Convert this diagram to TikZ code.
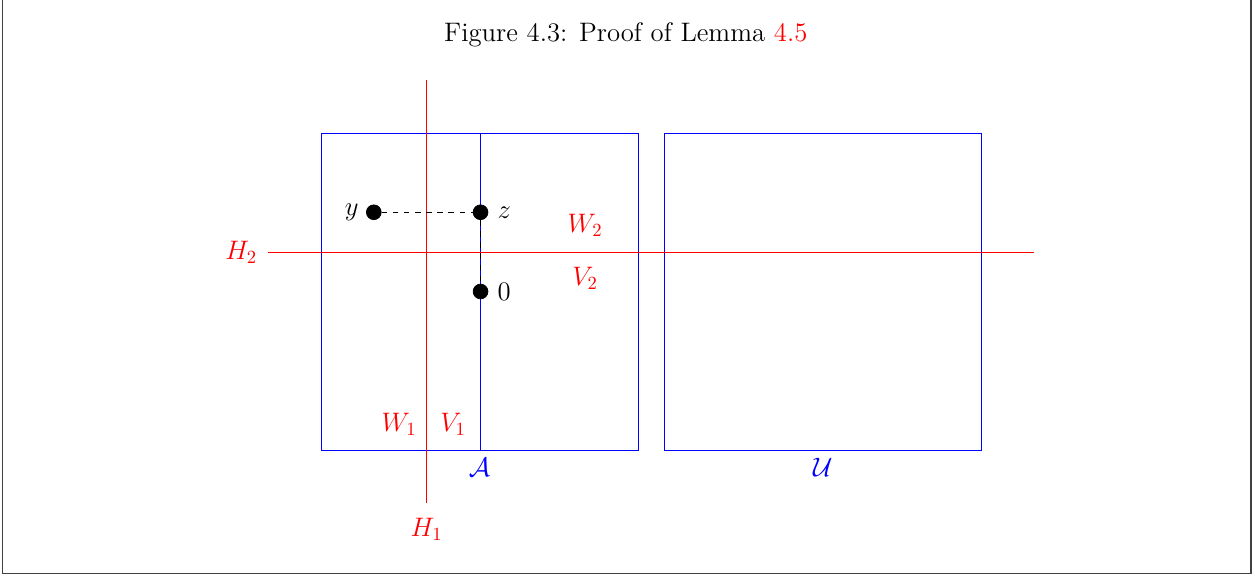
\documentclass[tikz,border=0pt,12pt]{standalone}
\usepackage{amssymb}
\usepackage{mathtools}
\usepackage{tikz}
\usetikzlibrary{positioning}
\usetikzlibrary{calc}

\begin{document}
\begin{tikzpicture}[font=\large, vertex/.style={circle, draw, fill=black, inner sep=0pt, minimum size=2.8mm}, hyper/.style={red}, box/.style={draw=blue}]
    \useasboundingbox (-6.076,-2.404) rectangle (17.68,8.518);
    % Frame and caption
    \draw[black!75, line width=0.8pt] (-6.03,8.6) -- (-6.03,-2.34) -- (17.6,-2.34) -- (17.6,8.6);
    \node (cap) at (5.77,7.86) {Figure 4.3: Proof of Lemma {\color{red}4.5}};

    % Define the two cubes
    \draw[box] (0,0) rectangle (6,6) (3.02,0) -- (3.02,6);
    \draw[box] (6.5,0) rectangle (12.5,6);
    \node[blue] (A) at (3,-0.32) {$\mathcal{A}$};
    \node[blue] (U) at (9.5,-0.32) {$\mathcal{U}$};

    % Hyperplanes
    \coordinate (h1top) at (2,7);
    \coordinate (h1bot) at (2,-1);
    \coordinate (h2left) at (-1,3.75);
    \coordinate (h2right) at (13.5,3.75);
    \draw[hyper] (h1top) -- (h1bot);
    \draw[hyper] (h2right) -- (h2left);
    \node[red] (H1) at (2,-1.5) {$H_1$};
    \node[red] (H2) at (-1.51,3.75) {$H_2$};

    % Define vertices
    \node[vertex] (y) at (1,4.5) {};
    \node[vertex] (z) at (3.02,4.5) {};
    \node[vertex] (O) at (3.02,3) {};
    \node[left=4pt] at (y) {$y$};
    \node[right=5pt] at (z) {$z$};
    \node[right=5pt] at (O) {$0$};
    \draw[dashed] (y) -- (z);
    \draw[dashed] (z) -- (O);

    % Label the half-spaces
    \node[red] at (1.48,0.49) {$W_1$};
    \node[red] at (2.5,0.49) {$V_1$};
    \node[red] at (5,4.25) {$W_2$};
    \node[red] at (5,3.24) {$V_2$};
\end{tikzpicture}
\end{document}
